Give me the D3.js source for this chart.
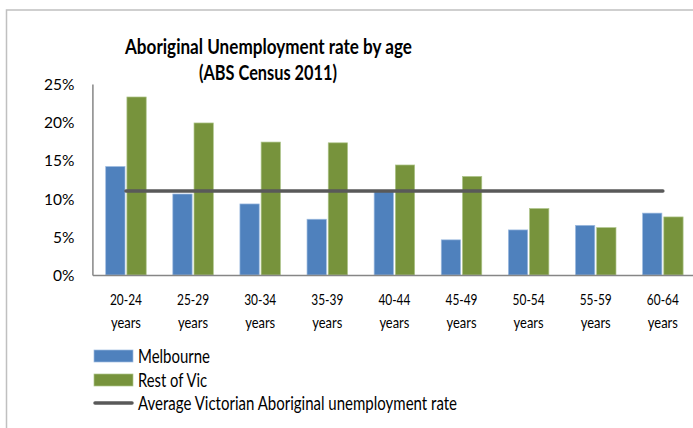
<!DOCTYPE html>
<html>
<head>
<meta charset="utf-8">
<script src="https://d3js.org/d3.v7.min.js"></script>
<style>
  body { margin: 0; background: #fff; }
  svg text { font-family: Lato, "Open Sans", sans-serif; fill: #000; }
</style>
</head>
<body>
<div id="viz"></div>
<script>
// data
var ages = ["20-24", "25-29", "30-34", "35-39", "40-44", "45-49", "50-54", "55-59", "60-64"];
var melbourne = [14.2, 10.6, 9.3, 7.3, 10.9, 4.6, 5.9, 6.5, 8.1];
var restOfVic = [23.3, 19.9, 17.4, 17.3, 14.4, 12.9, 8.7, 6.2, 7.6];
var vicAverage = [11.0, 11.0, 11.0, 11.0, 11.0, 11.0, 11.0, 11.0, 11.0];
var yTicks = [0, 5, 10, 15, 20, 25];
var seriesNames = ["Melbourne", "Rest of Vic", "Average Victorian Aboriginal unemployment rate"];

var width = 693, height = 428;
var plot = { left: 92.4, right: 696.4, top: 84, bottom: 275 };

var svg = d3.select("#viz").append("svg")
    .attr("width", width)
    .attr("height", height);

// chart frame (only top and left edges visible)
svg.append("path")
    .attr("d", "M6.5,428 V10 H693")
    .attr("fill", "none")
    .attr("stroke", "#c0c0c0")
    .attr("stroke-width", 1.5);

var x = d3.scaleBand().domain(ages).range([plot.left, plot.right]);
var y = d3.scaleLinear().domain([0, 25]).range([plot.bottom, plot.top]);

// bars inside each category band
var inner = d3.scaleBand().domain(["m", "r"])
    .range([13.3, x.bandwidth() - 13.3])
    .paddingInner(0.09);

svg.append("g").selectAll("rect")
    .data(melbourne)
    .join("rect")
    .attr("x", function (d, i) { return x(ages[i]) + inner("m"); })
    .attr("y", function (d) { return y(d); })
    .attr("width", inner.bandwidth())
    .attr("height", function (d) { return y(0) - y(d); })
    .attr("fill", "#4f81bd")
    .attr("stroke", "#9dbbe0")
    .attr("stroke-width", 0.7);

svg.append("g").selectAll("rect")
    .data(restOfVic)
    .join("rect")
    .attr("x", function (d, i) { return x(ages[i]) + inner("r"); })
    .attr("y", function (d) { return y(d); })
    .attr("width", inner.bandwidth())
    .attr("height", function (d) { return y(0) - y(d); })
    .attr("fill", "#77933c")
    .attr("stroke", "#aec58a")
    .attr("stroke-width", 0.7);

// y axis
var yAxis = svg.append("g")
    .attr("transform", "translate(" + plot.left + ",0)")
    .call(d3.axisLeft(y).tickValues(yTicks).tickSize(0).tickPadding(18)
        .tickFormat(function (d) { return d + "%"; }));
yAxis.select(".domain").attr("stroke", "#868686").attr("stroke-width", 1.5);
yAxis.selectAll("text").style("font-size", "15.5px").attr("dy", "0.36em");

// x axis
var xAxis = svg.append("g")
    .attr("transform", "translate(0," + plot.bottom + ")")
    .call(d3.axisBottom(x).tickSize(0).tickFormat(""));
xAxis.select(".domain").attr("stroke", "#868686").attr("stroke-width", 1.5);

var xLab = svg.append("g").selectAll("text")
    .data(ages)
    .join("text")
    .attr("text-anchor", "middle")
    .style("font-size", "16px")
    .attr("x", function (d) { return x(d) + x.bandwidth() / 2; })
    .attr("y", 305);
xLab.append("tspan")
    .attr("textLength", 32).attr("lengthAdjust", "spacingAndGlyphs")
    .text(function (d) { return d; });
xLab.append("tspan")
    .attr("x", function (d) { return x(d) + x.bandwidth() / 2; })
    .attr("dy", 23)
    .attr("textLength", 30).attr("lengthAdjust", "spacingAndGlyphs")
    .text("years");

// average line
var line = d3.line()
    .x(function (d, i) { return x(ages[i]) + x.bandwidth() / 2; })
    .y(function (d) { return y(d); });
svg.append("path")
    .datum(vicAverage)
    .attr("d", line)
    .attr("fill", "none")
    .attr("stroke", "#595959")
    .attr("stroke-width", 3.5)
    .attr("stroke-linecap", "round");

// title
svg.append("text")
    .attr("text-anchor", "middle")
    .attr("x", 268.5)
    .attr("y", 54)
    .attr("textLength", 287).attr("lengthAdjust", "spacingAndGlyphs")
    .style("font-size", "20px")
    .style("font-weight", "bold")
    .text("Aboriginal Unemployment rate by age");
svg.append("text")
    .attr("text-anchor", "middle")
    .attr("x", 268)
    .attr("y", 80)
    .attr("textLength", 138).attr("lengthAdjust", "spacingAndGlyphs")
    .style("font-size", "20px")
    .style("font-weight", "bold")
    .text("(ABS Census 2011)");

// legend
var legend = svg.append("g");
var legendY = [356, 380, 403];
var legendW = [72, 69, 319];
legend.append("rect").attr("x", 94).attr("y", 350).attr("width", 39).attr("height", 12)
    .attr("fill", "#4f81bd").attr("stroke", "#9dbbe0").attr("stroke-width", 0.7);
legend.append("rect").attr("x", 94).attr("y", 374).attr("width", 39).attr("height", 12)
    .attr("fill", "#77933c").attr("stroke", "#aec58a").attr("stroke-width", 0.7);
legend.append("line").attr("x1", 95).attr("x2", 132).attr("y1", 403).attr("y2", 403)
    .attr("stroke", "#595959").attr("stroke-width", 3.5).attr("stroke-linecap", "round");
legend.selectAll("text")
    .data(seriesNames)
    .join("text")
    .attr("x", 138)
    .attr("y", function (d, i) { return legendY[i]; })
    .attr("dy", "0.36em")
    .attr("textLength", function (d, i) { return legendW[i]; })
    .attr("lengthAdjust", "spacingAndGlyphs")
    .style("font-size", "18.5px")
    .text(function (d) { return d; });
</script>
</body>
</html>
